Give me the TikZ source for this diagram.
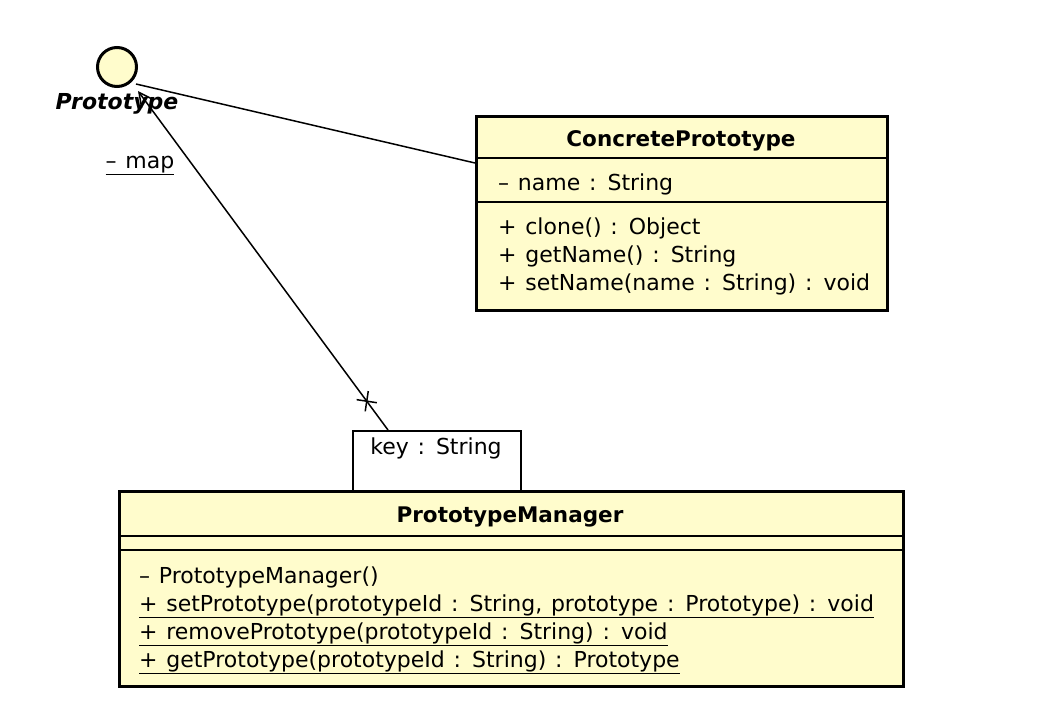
\documentclass[tikz,border=0pt]{standalone}
\usepackage{fontspec}
\setmainfont[WordSpace=1.25]{DejaVu Sans}
\usetikzlibrary{arrows.meta,shapes.misc}
\definecolor{umlfill}{RGB}{255,252,204}
\begin{document}
\begin{tikzpicture}[x=1pt,y=-1pt,
  classbox/.style={draw=black, line width=3pt, fill=umlfill, inner sep=0pt, anchor=north west},
  qualbox/.style={draw=black, line width=1.5pt, fill=white, inner sep=0pt, anchor=north west},
  sepline/.style={draw=black, line width=1.2pt},
  member/.style={font=\fontsize{22}{26}\selectfont, inner sep=0pt, anchor=base west},
  title/.style={font=\fontsize{21.5}{26}\selectfont\bfseries, inner sep=0pt, anchor=base},
  conn/.style={draw=black, line width=1.5pt}]
\useasboundingbox (0,0) rectangle (1038,726);

% Interface Prototype
\node[circle, draw=black, line width=3pt, fill=umlfill, minimum size=39pt, inner sep=0pt] (proto) at (117,67) {};
\node[font=\fontsize{22}{26}\selectfont\bfseries\itshape, inner sep=0pt, anchor=base] (protolbl) at (117,109) {Prototype};

% ConcretePrototype
\node[classbox, minimum width=411pt, minimum height=194pt] (cp) at (475,115) {};
\draw[sepline] (475,158) -- (886,158);
\draw[sepline] (475,202) -- (886,202);
\node[title] (cptitle) at (681,146) {ConcretePrototype};
\node[member] (cpa1) at (498,190) {– name : String};
\node[member] (cpm1) at (498,234) {+ clone() : Object};
\node[member] (cpm2) at (498,262) {+ getName() : String};
\node[member] (cpm3) at (498,290) {+ setName(name : String) : void};

% Qualifier
\node[qualbox, minimum width=168pt, minimum height=60pt] (qual) at (352,430) {};
\node[member, anchor=base] (qualtxt) at (436,454) {key : String};

% PrototypeManager
\node[classbox, minimum width=784pt, minimum height=195pt] (pm) at (118,490) {};
\draw[sepline] (118,536) -- (902,536);
\draw[sepline] (118,550) -- (902,550);
\node[title] (pmtitle) at (510,522) {PrototypeManager};
\node[member] (pmm1) at (139,583) {– PrototypeManager()};
\node[member] (pmm2) at (139,611) {\underline{+ setPrototype(prototypeId : String, prototype : Prototype) : void}};
\node[member] (pmm3) at (139,639) {\underline{+ removePrototype(prototypeId : String) : void}};
\node[member] (pmm4) at (139,667) {\underline{+ getPrototype(prototypeId : String) : Prototype}};

% Connectors
\coordinate (protoR) at (136,84);
\coordinate (cpL) at (475,163);
\draw[conn] (protoR) -- (cpL);

\coordinate (protoB) at (138,91);
\coordinate (qualT) at (388,430);
\draw[conn, -{Straight Barb[length=14pt, width=14pt, line width=1.5pt]}] (qualT) -- (protoB);
\path (qualT) -- (protoB) node[pos=0.085, sloped, cross out, draw=black, line width=1.5pt, minimum size=13pt, inner sep=0pt] (navx) {};

\node[member, anchor=base] (maplbl) at (140,168) {\underline{– map}};
\end{tikzpicture}
\end{document}
